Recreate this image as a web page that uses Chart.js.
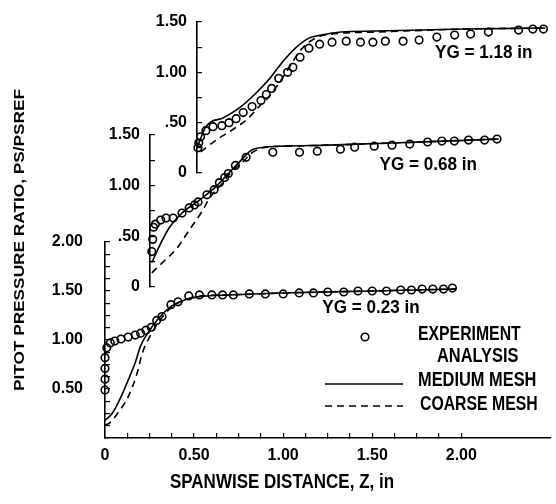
<!DOCTYPE html>
<html>
<head>
<meta charset="utf-8">
<script src="https://cdn.jsdelivr.net/npm/chart.js@4.4.1/dist/chart.umd.min.js"></script>
<style>
  html, body { margin: 0; padding: 0; background: #fff; }
  #fig { position: relative; width: 556px; height: 504px; overflow: hidden; background: #fff; }
  #fig canvas { position: absolute; }
</style>
</head>
<body>
<div id="fig">
  <canvas id="c023" width="556" height="504" style="left:0px;top:0px"></canvas>
  <canvas id="c068" width="476" height="220" style="left:80px;top:100px"></canvas>
  <canvas id="c118" width="426" height="215" style="left:130px;top:-15px"></canvas>
</div>
<script>
// Pitot pressure ratio vs spanwise distance, three stations (offset panels)

// YG = 0.23 in
const z023Exp = [0, 0, 0, 0, 0.01, 0.03, 0.055, 0.09, 0.13, 0.17, 0.20, 0.23, 0.26, 0.29, 0.32, 0.37, 0.41,
                 0.47, 0.53, 0.60, 0.66, 0.72, 0.81, 0.90, 1.00, 1.09, 1.17, 1.25, 1.34, 1.42, 1.50, 1.58,
                 1.66, 1.72, 1.78, 1.84, 1.90, 1.95];
const ps023Exp = [0.49, 0.60, 0.71, 0.82, 0.92, 0.97, 0.99, 1.01, 1.03, 1.05, 1.07, 1.10, 1.13, 1.20, 1.24, 1.36, 1.39,
                  1.45, 1.46, 1.46, 1.46, 1.46, 1.47, 1.47, 1.47, 1.48, 1.48, 1.49, 1.49, 1.50, 1.50, 1.50,
                  1.51, 1.51, 1.52, 1.52, 1.52, 1.53];
const z023Med = [0, 0.04, 0.09, 0.13, 0.17, 0.20, 0.24, 0.30, 0.37, 0.45, 0.52, 0.70, 1.00, 1.50, 1.97];
const ps023Med = [0.18, 0.25, 0.42, 0.59, 0.77, 0.94, 1.07, 1.22, 1.34, 1.41, 1.44, 1.46, 1.48, 1.50, 1.52];
const z023Coarse = [0, 0.03, 0.07, 0.13, 0.18, 0.21, 0.25, 0.30, 0.37, 0.45, 0.54, 0.70, 1.00, 1.50, 1.97];
const ps023Coarse = [0.13, 0.16, 0.25, 0.42, 0.66, 0.87, 1.03, 1.18, 1.33, 1.41, 1.45, 1.46, 1.48, 1.50, 1.52];

// YG = 0.68 in
const z068Exp = [0.01, 0.015, 0.02, 0.03, 0.06, 0.09, 0.13, 0.18, 0.22, 0.25, 0.27, 0.32, 0.36, 0.39, 0.42, 0.44,
                 0.48, 0.54, 0.69, 0.84, 0.94, 1.07, 1.15, 1.26, 1.36, 1.46, 1.56, 1.64, 1.71, 1.79, 1.88, 1.95];
const ps068Exp = [0.35, 0.47, 0.59, 0.62, 0.66, 0.68, 0.68, 0.73, 0.78, 0.81, 0.84, 0.91, 0.96, 1.03, 1.08, 1.12,
                  1.20, 1.28, 1.33, 1.33, 1.34, 1.36, 1.38, 1.39, 1.40, 1.41, 1.43, 1.44, 1.44, 1.45, 1.45, 1.46];
const z068Med = [0.01, 0.06, 0.11, 0.18, 0.28, 0.37, 0.44, 0.50, 0.57, 0.65, 0.76, 1.00, 1.50, 1.96];
const ps068Med = [0.24, 0.43, 0.59, 0.73, 0.86, 0.99, 1.12, 1.23, 1.35, 1.38, 1.39, 1.40, 1.43, 1.46];
const z068Coarse = [0.01, 0.07, 0.15, 0.22, 0.29, 0.34, 0.41, 0.46, 0.52, 0.57, 0.65, 0.76, 1.00, 1.50, 1.96];
const ps068Coarse = [0.14, 0.24, 0.38, 0.56, 0.74, 0.89, 1.03, 1.14, 1.23, 1.32, 1.38, 1.39, 1.40, 1.43, 1.46];

// YG = 1.18 in
const z118Exp = [0.005, 0.01, 0.02, 0.05, 0.09, 0.14, 0.18, 0.22, 0.26, 0.31, 0.36, 0.39, 0.42, 0.46, 0.51, 0.54,
                 0.58, 0.63, 0.69, 0.76, 0.84, 0.92, 0.99, 1.06, 1.16, 1.25, 1.35, 1.45, 1.54, 1.64, 1.81, 1.89, 1.95];
const ps118Exp = [0.25, 0.30, 0.36, 0.42, 0.46, 0.47, 0.50, 0.54, 0.60, 0.66, 0.72, 0.78, 0.84, 0.94, 1.00, 1.05,
                  1.15, 1.24, 1.28, 1.30, 1.31, 1.30, 1.30, 1.31, 1.31, 1.32, 1.35, 1.37, 1.38, 1.40, 1.42, 1.43, 1.43];
const z118Med = [0, 0.05, 0.15, 0.24, 0.33, 0.41, 0.48, 0.56, 0.63, 0.70, 0.81, 1.00, 1.50, 1.96];
const ps118Med = [0.25, 0.46, 0.55, 0.65, 0.79, 0.94, 1.10, 1.25, 1.34, 1.37, 1.40, 1.41, 1.43, 1.44];
const z118Coarse = [0.02, 0.11, 0.20, 0.28, 0.35, 0.41, 0.46, 0.52, 0.57, 0.63, 0.72, 1.00, 1.50, 1.96];
const ps118Coarse = [0.21, 0.33, 0.43, 0.53, 0.66, 0.77, 0.89, 1.05, 1.19, 1.30, 1.37, 1.40, 1.43, 1.44];

// tick labels
const xTickVals = [0, 0.5, 1, 1.5, 2];
const xTickLabels = ['0', '0.50', '1.00', '1.50', '2.00'];
const yTickVals = [0.5, 1, 1.5, 2];
const yTickLabels = ['0.50', '1.00', '1.50', '2.00'];
const yTickValsUpper = [0, 0.5, 1, 1.5];
const yTickLabelsUpper = ['0', '.50', '1.00', '1.50'];

const FONT = '"Liberation Sans", Arial, sans-serif';

Chart.defaults.color = '#000';
Chart.defaults.animation = false;

function pts(z, v) {
    return z.map((x, i) => ({ x: x, y: v[i] }));
}

function labelFor(vals, labels, v) {
    for (let i = 0; i < vals.length; i++) {
        if (Math.abs(vals[i] - v) < 1e-6) return labels[i];
    }
    return '';
}

// bold text squeezed (or stretched) sideways, like the old lettering
function letter(ctx, text, x, y, size, sx, align) {
    ctx.save();
    ctx.translate(x, y);
    ctx.scale(sx, 1);
    ctx.font = 'bold ' + size + 'px ' + FONT;
    ctx.textAlign = align || 'left';
    ctx.textBaseline = 'middle';
    ctx.fillText(text, 0, 0);
    ctx.restore();
}

function panelSets(zE, pE, zM, pM, zC, pC) {
    return [
        {
            label: 'EXPERIMENT', data: pts(zE, pE), showLine: false,
            pointStyle: 'circle', pointRadius: 3.8, pointBorderWidth: 1.6,
            borderColor: '#000', backgroundColor: 'rgba(0,0,0,0)', clip: false
        },
        {
            label: 'MEDIUM MESH', data: pts(zM, pM), showLine: true,
            borderColor: '#000', borderWidth: 1.6, pointRadius: 0,
            cubicInterpolationMode: 'monotone', clip: false
        },
        {
            label: 'COARSE MESH', data: pts(zC, pC), showLine: true,
            borderColor: '#000', borderWidth: 1.6, borderDash: [7, 5], pointRadius: 0,
            cubicInterpolationMode: 'monotone', clip: false
        }
    ];
}

function yAxis(width, max, step, vals, labels, pad) {
    return {
        type: 'linear', min: 0, max: max,
        afterFit: s => { s.width = width; },
        ticks: {
            stepSize: step, autoSkip: false, padding: pad,
            font: { family: FONT, size: 16, weight: 'bold' },
            callback: v => labelFor(vals, labels, v)
        },
        grid: { drawOnChartArea: false, drawTicks: true, tickLength: -5, color: '#000', lineWidth: 1.2 },
        border: { color: '#000', width: 1.6 }
    };
}

// YG label inside each panel, placed with the panel's own scales
const panelLabel = {
    id: 'panelLabel',
    afterDatasetsDraw(chart, args, opts) {
        const ctx = chart.ctx;
        ctx.save();
        ctx.fillStyle = '#000';
        letter(ctx, opts.text, chart.scales.x.getPixelForValue(opts.z), chart.scales.y.getPixelForValue(opts.v), 18, 0.95);
        ctx.restore();
    }
};

// axis titles and legend, drawn on the bottom panel
const annotations = {
    id: 'annotations',
    afterDraw(chart) {
        const ctx = chart.ctx;
        ctx.save();
        ctx.fillStyle = '#000';
        ctx.strokeStyle = '#000';

        // y title
        ctx.save();
        ctx.translate(20, 240);
        ctx.rotate(-Math.PI / 2);
        letter(ctx, 'PITOT PRESSURE RATIO, PS/PSREF', 0, 0, 15, 1.15, 'center');
        ctx.restore();

        // x title
        letter(ctx, 'SPANWISE DISTANCE, Z, in', 282, 482, 20, 0.85, 'center');

        // legend
        ctx.lineWidth = 1.6;
        ctx.beginPath();
        ctx.arc(365, 337, 3.8, 0, Math.PI * 2);
        ctx.stroke();
        letter(ctx, 'EXPERIMENT', 418, 334, 20, 0.79);
        letter(ctx, 'ANALYSIS', 437, 356, 20, 0.82);
        letter(ctx, 'MEDIUM MESH', 418, 380, 20, 0.82);
        letter(ctx, 'COARSE MESH', 420, 404, 20, 0.79);

        ctx.beginPath();
        ctx.moveTo(325, 384);
        ctx.lineTo(403, 384);
        ctx.stroke();
        ctx.setLineDash([7, 5]);
        ctx.beginPath();
        ctx.moveTo(325, 406);
        ctx.lineTo(403, 406);
        ctx.stroke();
        ctx.restore();
    }
};

// bottom panel, YG = 0.23 in (carries the visible x axis)
new Chart(document.getElementById('c023'), {
    type: 'scatter',
    data: { datasets: panelSets(z023Exp, ps023Exp, z023Med, ps023Med, z023Coarse, ps023Coarse) },
    options: {
        responsive: false, devicePixelRatio: 1,
        layout: { padding: { left: 0, top: 242, right: 1, bottom: 0 } },
        plugins: {
            legend: { display: false }, tooltip: { enabled: false },
            panelLabel: { text: 'YG = 0.23 in', z: 1.22, v: 1.33 }
        },
        scales: {
            x: {
                type: 'linear', min: 0, max: 2.5,
                afterFit: s => { s.height = 66; },
                afterBuildTicks: s => { s.ticks = s.ticks.filter(t => t.value <= 2.0001); },
                ticks: {
                    stepSize: 0.125, autoSkip: false, maxRotation: 0, padding: 13,
                    font: { family: FONT, size: 16, weight: 'bold' },
                    callback: v => labelFor(xTickVals, xTickLabels, v)
                },
                grid: { drawOnChartArea: false, drawTicks: true, tickLength: -5, color: '#000', lineWidth: 1.2 },
                border: { color: '#000', width: 1.6 }
            },
            y: yAxis(105, 2.0, 0.125, yTickVals, yTickLabels, 27)
        }
    },
    plugins: [panelLabel, annotations]
});

// middle panel, YG = 0.68 in
new Chart(document.getElementById('c068'), {
    type: 'scatter',
    data: { datasets: panelSets(z068Exp, ps068Exp, z068Med, ps068Med, z068Coarse, ps068Coarse) },
    options: {
        responsive: false, devicePixelRatio: 1,
        layout: { padding: { left: 0, top: 35, right: 1, bottom: 33 } },
        plugins: {
            legend: { display: false }, tooltip: { enabled: false },
            panelLabel: { text: 'YG = 0.68 in', z: 1.29, v: 1.20 }
        },
        scales: {
            x: { type: 'linear', min: 0, max: 2.25, display: false },
            y: yAxis(70, 1.5, 0.25, yTickValsUpper, yTickLabelsUpper, 15)
        }
    },
    plugins: [panelLabel]
});

// top panel, YG = 1.18 in
new Chart(document.getElementById('c118'), {
    type: 'scatter',
    data: { datasets: panelSets(z118Exp, ps118Exp, z118Med, ps118Med, z118Coarse, ps118Coarse) },
    options: {
        responsive: false, devicePixelRatio: 1,
        layout: { padding: { left: 0, top: 37, right: 1, bottom: 27 } },
        plugins: {
            legend: { display: false }, tooltip: { enabled: false },
            panelLabel: { text: 'YG = 1.18 in', z: 1.34, v: 1.19 }
        },
        scales: {
            x: { type: 'linear', min: 0, max: 1.989, display: false },
            y: yAxis(67, 1.5, 0.25, yTickValsUpper, yTickLabelsUpper, 15)
        }
    },
    plugins: [panelLabel]
});
</script>
</body>
</html>
